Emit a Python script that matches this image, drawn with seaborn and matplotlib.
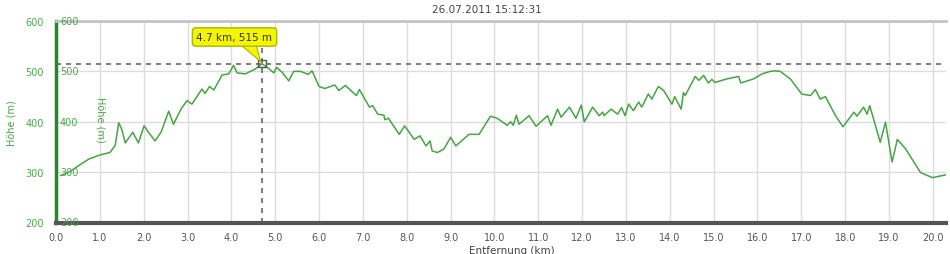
import matplotlib
matplotlib.use("Agg")
import matplotlib.pyplot as plt
import matplotlib.transforms as mtransforms
import seaborn as sns
import pandas as pd

sns.set_theme(style="white")
plt.rcParams['font.family'] = ['DejaVu Sans']

# ---- data ----
distance_km = [0.1, 0.3, 0.5, 0.75, 1.0, 1.23, 1.35, 1.43, 1.5, 1.58, 1.75, 1.88, 2.01, 2.1,
               2.26, 2.4, 2.57, 2.68, 2.85, 2.99, 3.1, 3.33, 3.4, 3.5, 3.6, 3.79, 3.94, 4.05,
               4.13, 4.32, 4.55, 4.7, 4.82, 4.97, 5.03, 5.16, 5.31, 5.42, 5.58, 5.75, 5.84,
               6.0, 6.13, 6.36, 6.45, 6.6, 6.85, 6.92, 7.15, 7.22, 7.34, 7.48, 7.5, 7.58,
               7.83, 7.95, 8.17, 8.3, 8.44, 8.53, 8.58, 8.7, 8.85, 9.0, 9.12, 9.42, 9.65,
               9.91, 10.06, 10.29, 10.37, 10.43, 10.5, 10.56, 10.79, 10.95, 11.21, 11.29,
               11.44, 11.52, 11.71, 11.86, 11.98, 12.05, 12.24, 12.39, 12.47, 12.5, 12.66,
               12.81, 12.9, 12.98, 13.06, 13.17, 13.29, 13.36, 13.51, 13.59, 13.74, 13.86,
               14.05, 14.11, 14.18, 14.26, 14.31, 14.35, 14.58, 14.66, 14.77, 14.88, 14.96,
               15.03, 15.3, 15.57, 15.62, 15.91, 16.1, 16.29, 16.4, 16.52, 16.75, 17.01,
               17.21, 17.32, 17.43, 17.55, 17.78, 17.95, 18.2, 18.27, 18.42, 18.5, 18.56,
               18.8, 18.92, 19.07, 19.19, 19.38, 19.72, 19.99, 20.37]
elevation_m = [293, 300, 312, 326, 334, 339, 353, 398, 385, 358, 379, 358, 392, 380,
               362, 380, 421, 395, 425, 442, 435, 465, 456, 470, 463, 493, 495, 512,
               497, 495, 505, 515, 508, 497, 508, 498, 481, 500, 500, 494, 501,
               470, 466, 473, 462, 472, 452, 464, 429, 432, 415, 413, 404, 407,
               375, 392, 365, 372, 352, 362, 342, 339, 346, 369, 352, 375, 375,
               411, 407, 393, 400, 393, 413, 395, 412, 391, 412, 393,
               425, 409, 429, 407, 433, 400, 429, 412, 419, 412, 425,
               415, 428, 412, 435, 422, 439, 429, 455, 445, 470, 462,
               435, 450, 438, 425, 458, 452, 490, 482, 492, 477, 484,
               478, 485, 490, 477, 485, 495, 500, 501, 500, 485, 455,
               452, 464, 445, 450, 412, 390, 419, 411, 429, 415, 432,
               359, 399, 320, 365, 346, 299, 289, 296]
x_ticks = [0, 1, 2, 3, 4, 5, 6, 7, 8, 9, 10, 11, 12, 13, 14, 15, 16, 17, 18, 19, 20]
x_tick_labels = ["0.0", "1.0", "2.0", "3.0", "4.0", "5.0", "6.0", "7.0", "8.0", "9.0", "10.0",
                 "11.0", "12.0", "13.0", "14.0", "15.0", "16.0", "17.0", "18.0", "19.0", "20.0"]
y_ticks = [200, 300, 400, 500, 600]
y_tick_labels = ["200", "300", "400", "500", "600"]
cursor_km = 4.7
cursor_m = 515
title_text = "26.07.2011 15:12:31"
x_label = "Entfernung (km)"
y_label = "Höhe (m)"

GREEN_LINE = "#45a545"
GREEN_AXIS = "#1e8c1e"
GREEN_TEXT = "#4aa84a"

W, H = 950, 255
fig = plt.figure(figsize=(9.5, 2.55), dpi=100)
ax = fig.add_axes([56 / W, 1 - 223.5 / H, 890 / W, (223.5 - 22) / H])

df = pd.DataFrame({"km": distance_km, "m": elevation_m})
sns.lineplot(data=df, x="km", y="m", ax=ax, color=GREEN_LINE, lw=1.1, zorder=3)

ax.set_xlim(0, 20.3)
ax.set_ylim(200, 600)
ax.set_xticks(x_ticks)
ax.set_xticklabels(x_tick_labels)
ax.set_yticks(y_ticks)
ax.set_yticklabels(y_tick_labels)
ax.set_xlabel("")
ax.set_ylabel("")
ax.grid(True, color="#dcdcdc", lw=1, zorder=0)

ax.spines["right"].set_visible(False)
ax.spines["left"].set_color(GREEN_AXIS)
ax.spines["left"].set_linewidth(2.5)
ax.spines["bottom"].set_color("#555555")
ax.spines["bottom"].set_linewidth(3)
ax.spines["top"].set_color("#c4c4c4")
ax.spines["top"].set_linewidth(2)

ax.tick_params(axis="x", direction="inout", length=6, width=1, color="#444444",
               labelsize=7, labelcolor="#555555", pad=3.5)
ax.tick_params(axis="y", direction="inout", length=7, width=1.2, color=GREEN_AXIS,
               labelsize=7, labelcolor=GREEN_TEXT, pad=5.5)

# inner duplicate tick labels
inner = mtransforms.offset_copy(ax.get_yaxis_transform(), fig=fig, x=4, y=0, units="dots")
for v, lab in zip(y_ticks, y_tick_labels):
    ax.text(0, v, lab, transform=inner, ha="left", va="center", fontsize=7,
            color=GREEN_TEXT, zorder=4, clip_on=False)

# axis titles
fig.text(12 / W, 1 - 123 / H, y_label, rotation=90, ha="center", va="center",
         fontsize=7, color=GREEN_TEXT)
fig.text(100 / W, 1 - 120 / H, y_label, rotation=270, ha="center", va="center",
         fontsize=7, color=GREEN_TEXT)
fig.text(487 / W, 1 - 10 / H, title_text, ha="center", va="center", fontsize=7.5,
         color="#444444")
fig.text(512 / W, 1 - 246 / H, x_label, ha="center", va="top", fontsize=7.5,
         color="#444444")

# crosshair
ax.axvline(cursor_km, color="#666666", ls=(0, (3, 3)), lw=1.2, zorder=2)
ax.axhline(cursor_m, color="#666666", ls=(0, (3, 3)), lw=1.2, zorder=2)
ax.scatter([cursor_km], [cursor_m], marker="s", s=28, facecolors="none",
           edgecolors="#555555", linewidths=1, zorder=5)

ax.annotate(f"{cursor_km} km, {cursor_m} m", xy=(cursor_km, cursor_m),
            xytext=(234.5, H - 38), textcoords="figure pixels",
            ha="center", va="center", fontsize=7.5, color="#333333",
            bbox=dict(boxstyle="round,pad=0.4,rounding_size=0.3", fc="#f5f500",
                      ec="#a9b800", lw=1),
            arrowprops=dict(arrowstyle="wedge,tail_width=1.4,shrink_factor=0.5",
                            fc="#f5f500", ec="#a9b800", lw=0.8, relpos=(0.68, 0.0),
                            shrinkA=0, shrinkB=2, patchA=None),
            zorder=6)

fig.savefig("out.png", dpi=100, facecolor="white")
